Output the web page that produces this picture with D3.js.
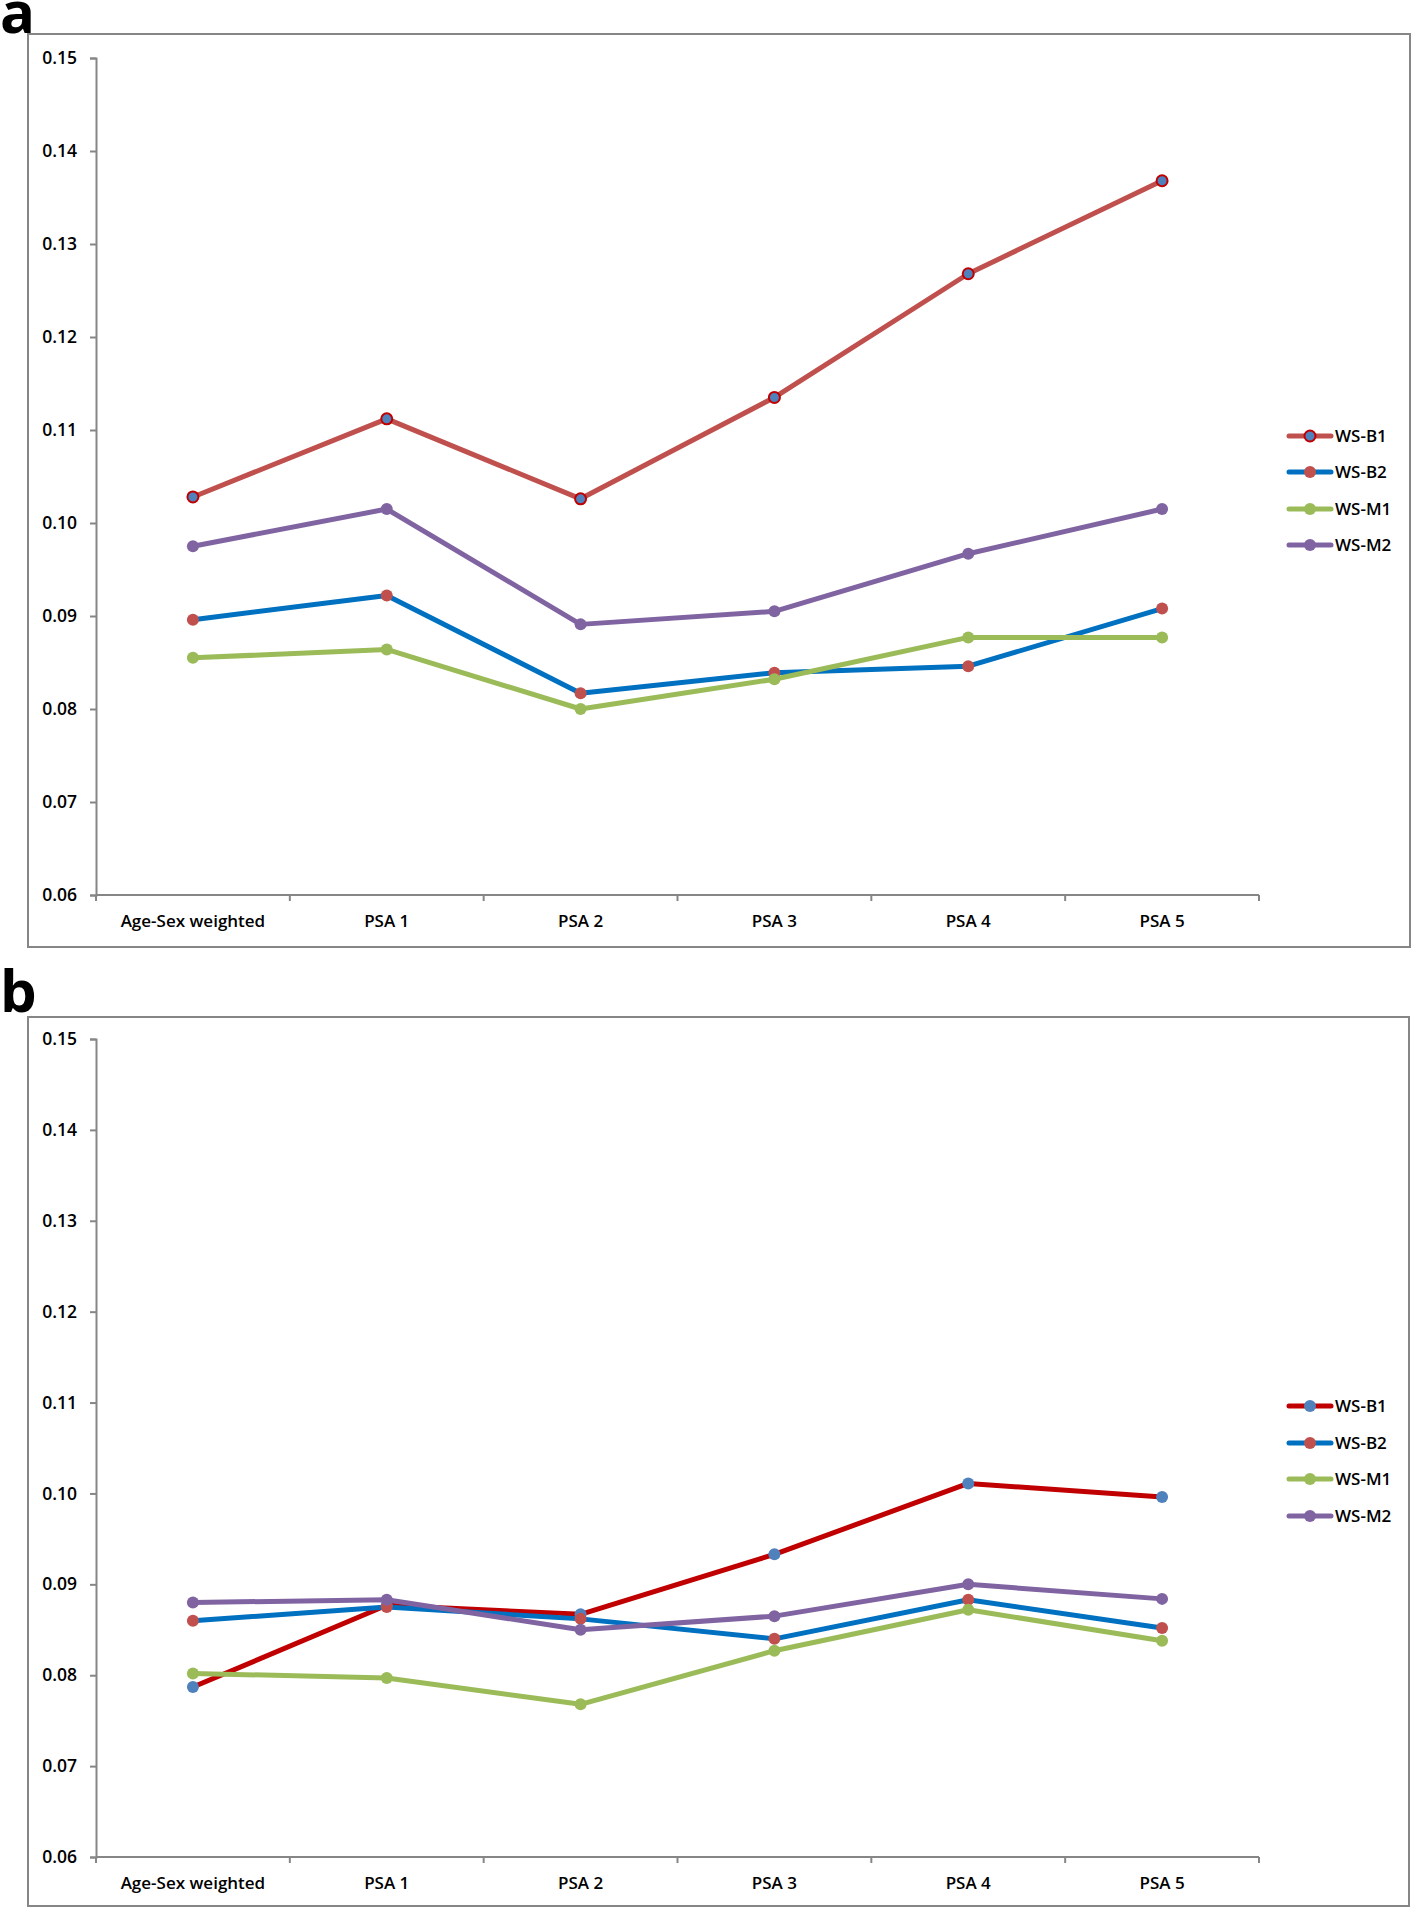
<!DOCTYPE html>
<html><head><meta charset="utf-8">
<script src="https://cdn.jsdelivr.net/npm/d3@7/dist/d3.min.js"></script>
<style>
html,body{margin:0;padding:0;background:#fff;}
svg{display:block;}
text{font-family:"Open Sans",sans-serif;}
</style></head>
<body>
<svg id="chart" width="1416" height="1908"></svg>
<script>
const categories = ["Age-Sex weighted","PSA 1","PSA 2","PSA 3","PSA 4","PSA 5"];
const seriesNames = ["WS-B1","WS-B2","WS-M1","WS-M2"];
const yTicks = [0.06,0.07,0.08,0.09,0.10,0.11,0.12,0.13,0.14,0.15];

// Panel a
const aB1 = [0.1028,0.1112,0.1026,0.1135,0.1268,0.1368];
const aB2 = [0.0896,0.0922,0.0817,0.0839,0.0846,0.0908];
const aM1 = [0.0855,0.0864,0.0800,0.0832,0.0877,0.0877];
const aM2 = [0.0975,0.1015,0.0891,0.0905,0.0967,0.1015];
// Panel b
const bB1 = [0.0787,0.0877,0.0867,0.0933,0.1011,0.0996];
const bB2 = [0.0860,0.0875,0.0862,0.0840,0.0883,0.0852];
const bM1 = [0.0802,0.0797,0.0768,0.0827,0.0872,0.0838];
const bM2 = [0.0880,0.0883,0.0850,0.0865,0.0900,0.0884];

const svg = d3.select("#chart");

const panels = [
  {label:"a", labelY:33, frame:[28,34,1410,947], plot:[96,58,1259,895],
   legendY:[436,472,509,545],
   series:[
     {name:seriesNames[0], values:aB1, line:"#C0504D", fill:"#4F81BD", stroke:"#C00000"},
     {name:seriesNames[1], values:aB2, line:"#0070C0", fill:"#C0504D", stroke:"none"},
     {name:seriesNames[2], values:aM1, line:"#9BBB59", fill:"#9BBB59", stroke:"none"},
     {name:seriesNames[3], values:aM2, line:"#8064A2", fill:"#8064A2", stroke:"none"}
   ]},
  {label:"b", labelY:1012, frame:[28,1017,1409,1906], plot:[96,1039,1259,1857],
   legendY:[1406,1443,1479,1516],
   series:[
     {name:seriesNames[0], values:bB1, line:"#C00000", fill:"#4F81BD", stroke:"none"},
     {name:seriesNames[1], values:bB2, line:"#0070C0", fill:"#C0504D", stroke:"none"},
     {name:seriesNames[2], values:bM1, line:"#9BBB59", fill:"#9BBB59", stroke:"none"},
     {name:seriesNames[3], values:bM2, line:"#8064A2", fill:"#8064A2", stroke:"none"}
   ]}
];

const axisColor = "#868686";
const fontW = 600;

panels.forEach(p => {
  const [fx0,fy0,fx1,fy1] = p.frame;
  const [px0,py0,px1,py1] = p.plot;
  const g = svg.append("g");

  g.append("rect").attr("x",fx0).attr("y",fy0).attr("width",fx1-fx0).attr("height",fy1-fy0)
    .attr("fill","#fff").attr("stroke",axisColor).attr("stroke-width",2);

  svg.append("text").attr("x",0).attr("y",p.labelY).text(p.label)
    .attr("font-family","'Liberation Sans',Arial,sans-serif").attr("font-weight","bold")
    .attr("font-size",58).attr("fill","#000");

  const x = d3.scaleBand().domain(categories).range([px0,px1]).paddingInner(0).paddingOuter(0);
  const y = d3.scaleLinear().domain([0.06,0.15]).range([py1,py0]);
  const cx = c => x(c) + x.bandwidth()/2;

  // y axis
  const ya = g.append("g").attr("transform",`translate(${px0},0)`)
    .call(d3.axisLeft(y).tickValues(yTicks).tickSize(6).tickPadding(13).tickFormat(d3.format(".2f")));
  ya.select(".domain").attr("stroke",axisColor).attr("stroke-width",2);
  ya.selectAll(".tick line").attr("stroke",axisColor).attr("stroke-width",2);
  ya.selectAll(".tick text").attr("font-size",17.5).attr("font-weight",fontW).attr("fill","#000").attr("font-family","'Open Sans',sans-serif");

  // x axis: labels at centres
  const xa = g.append("g").attr("transform",`translate(0,${py1})`)
    .call(d3.axisBottom(x).tickSize(0).tickPadding(20));
  xa.select(".domain").remove();
  xa.selectAll(".tick text").attr("font-size",17).attr("font-weight",fontW).attr("fill","#000").attr("font-family","'Open Sans',sans-serif");
  // x axis line + boundary ticks
  g.append("line").attr("x1",px0).attr("x2",px1).attr("y1",py1).attr("y2",py1)
    .attr("stroke",axisColor).attr("stroke-width",2);
  const bounds = categories.map(c => x(c)).concat([px1]);
  g.selectAll(".xb").data(bounds).join("line")
    .attr("x1",d=>d).attr("x2",d=>d).attr("y1",py1).attr("y2",py1+6)
    .attr("stroke",axisColor).attr("stroke-width",2);

  const line = d3.line().x((d,i)=>cx(categories[i])).y(d=>y(d));

  p.series.forEach(s => {
    g.append("path").datum(s.values).attr("d",line)
      .attr("fill","none").attr("stroke",s.line).attr("stroke-width",5)
      .attr("stroke-linejoin","round").attr("stroke-linecap","round");
  });
  p.series.forEach(s => {
    g.selectAll(null).data(s.values).join("circle")
      .attr("cx",(d,i)=>cx(categories[i])).attr("cy",d=>y(d))
      .attr("r", s.stroke==="none"?6:5.5)
      .attr("fill",s.fill).attr("stroke",s.stroke).attr("stroke-width",s.stroke==="none"?0:2);
  });

  // legend
  p.series.forEach((s,i) => {
    const ly = p.legendY[i];
    g.append("line").attr("x1",1289).attr("x2",1331).attr("y1",ly).attr("y2",ly)
      .attr("stroke",s.line).attr("stroke-width",5).attr("stroke-linecap","round");
    g.append("circle").attr("cx",1310).attr("cy",ly).attr("r",s.stroke==="none"?6:5.5)
      .attr("fill",s.fill).attr("stroke",s.stroke).attr("stroke-width",s.stroke==="none"?0:2);
    g.append("text").attr("x",1335).attr("y",ly).attr("dy","0.35em").text(s.name)
      .attr("font-size",17).attr("font-weight",fontW).attr("fill","#000");
  });
});
</script>
</body></html>
